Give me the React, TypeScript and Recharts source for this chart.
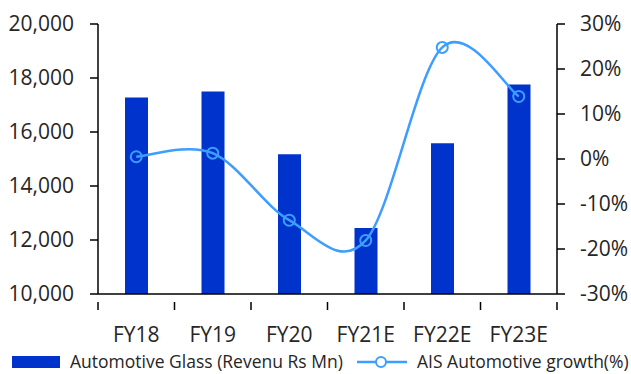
import React from "react";
import { ComposedChart, Bar, Line, XAxis, YAxis, Legend } from "recharts";

const categories = ["FY18", "FY19", "FY20", "FY21E", "FY22E", "FY23E"];
const glassRevenue = [17280, 17500, 15180, 12440, 15580, 17760];
const aisGrowth = [0.5, 1.3, -13.6, -18.1, 24.8, 13.9];
const revenueTicks = [10000, 12000, 14000, 16000, 18000, 20000];
const growthTicks = [-30, -20, -10, 0, 10, 20, 30];

const data = categories.map((name, i) => ({
  name,
  glass: glassRevenue[i],
  growth: aisGrowth[i],
}));

const BAR_COLOR = "#0033CC";
const LINE_COLOR = "#3D9EFF";
const TEXT_COLOR = "#262626";
const FONT = "'Open Sans', sans-serif";
const TICK_FONT_SIZE = 21;

const CHART_W = 631;
const CHART_H = 374;
const LEFT_AXIS_W = 98;
const RIGHT_AXIS_W = 74;
const BAND = (CHART_W - LEFT_AXIS_W - RIGHT_AXIS_W) / categories.length;

// Smoothed line in the spreadsheet style: cubic Bézier segments whose
// control points follow the neighbouring points (tension 1/6).
const smoothCurve = (context: any) => {
  let pts: [number, number][] = [];
  return {
    areaStart() {},
    areaEnd() {},
    lineStart() {
      pts = [];
    },
    point(x: number, y: number) {
      pts.push([+x, +y]);
    },
    lineEnd() {
      if (!pts.length) return;
      context.moveTo(pts[0][0], pts[0][1]);
      for (let i = 0; i < pts.length - 1; i++) {
        const p0 = pts[i - 1] || pts[i];
        const p1 = pts[i];
        const p2 = pts[i + 1];
        const p3 = pts[i + 2] || pts[i + 1];
        context.bezierCurveTo(
          p1[0] + (p2[0] - p0[0]) / 6,
          p1[1] + (p2[1] - p0[1]) / 6,
          p2[0] - (p3[0] - p1[0]) / 6,
          p2[1] - (p3[1] - p1[1]) / 6,
          p2[0],
          p2[1]
        );
      }
    },
  };
};

// Category label plus tick marks placed on the band boundaries.
const CategoryTick = (props: any) => {
  const { x, y, payload, index } = props;
  const left = x - BAND / 2;
  const right = x + BAND / 2;
  return (
    <g>
      <line x1={left} y1={y} x2={left} y2={y + 8} stroke="#000" strokeWidth={1.5} />
      {index === categories.length - 1 && (
        <line x1={right} y1={y} x2={right} y2={y + 8} stroke="#000" strokeWidth={1.5} />
      )}
      <text
        x={x}
        y={y + 40}
        textAnchor="middle"
        fill={TEXT_COLOR}
        fontSize={TICK_FONT_SIZE}
        fontFamily={FONT}
      >
        {payload.value}
      </text>
    </g>
  );
};

const legendText: React.CSSProperties = {
  position: "absolute",
  top: 5,
  fontSize: 17.5,
  lineHeight: "24px",
  color: TEXT_COLOR,
  whiteSpace: "nowrap",
};

const LegendContent = () => (
  <div style={{ position: "relative", width: CHART_W, height: 30, fontFamily: FONT }}>
    <div
      style={{
        position: "absolute",
        left: 12,
        top: 12,
        width: 48,
        height: 12,
        background: BAR_COLOR,
      }}
    />
    <span style={{ ...legendText, left: 70 }}>Automotive Glass (Revenu Rs Mn)</span>
    <svg style={{ position: "absolute", left: 355, top: 8 }} width={56} height={20}>
      <line x1={2} y1={10} x2={52} y2={10} stroke={LINE_COLOR} strokeWidth={2.5} />
      <circle cx={26} cy={10} r={5} fill="#fff" stroke={LINE_COLOR} strokeWidth={2} />
    </svg>
    <span style={{ ...legendText, left: 417 }}>AIS Automotive growth(%)</span>
  </div>
);

export default function App() {
  return (
    <div style={{ position: "absolute", left: 0, top: 0, background: "#fff" }}>
      <ComposedChart
        width={CHART_W}
        height={CHART_H}
        data={data}
        margin={{ top: 24, right: 0, bottom: 0, left: 0 }}
      >
        <XAxis
          dataKey="name"
          height={50}
          axisLine={{ stroke: "#000", strokeWidth: 1.5 }}
          tickLine={false}
          tick={<CategoryTick />}
          interval={0}
        />
        <YAxis
          yAxisId="left"
          width={LEFT_AXIS_W}
          domain={[10000, 20000]}
          ticks={revenueTicks}
          allowDataOverflow
          axisLine={{ stroke: "#000", strokeWidth: 1.5 }}
          tickLine={{ stroke: "#000", strokeWidth: 1.5 }}
          tickSize={8}
          tickMargin={16}
          tick={{ fill: TEXT_COLOR, fontSize: TICK_FONT_SIZE, fontFamily: FONT }}
          tickFormatter={(v: number) => v.toLocaleString("en-US")}
        />
        <YAxis
          yAxisId="right"
          orientation="right"
          width={RIGHT_AXIS_W}
          domain={[-30, 30]}
          ticks={growthTicks}
          axisLine={{ stroke: "#000", strokeWidth: 1.5 }}
          tickLine={{ stroke: "#000", strokeWidth: 1.5 }}
          tickSize={8}
          tickMargin={15}
          tick={{ fill: TEXT_COLOR, fontSize: TICK_FONT_SIZE, fontFamily: FONT }}
          tickFormatter={(v: number) => `${v}%`}
        />
        <Legend verticalAlign="bottom" height={30} content={<LegendContent />} />
        <Bar
          yAxisId="left"
          dataKey="glass"
          name="Automotive Glass (Revenu Rs Mn)"
          fill={BAR_COLOR}
          barSize={23}
          isAnimationActive={false}
        />
        <Line
          yAxisId="right"
          dataKey="growth"
          name="AIS Automotive growth(%)"
          type={smoothCurve as any}
          stroke={LINE_COLOR}
          strokeWidth={2.5}
          dot={{ r: 5.5, fill: "none", stroke: LINE_COLOR, strokeWidth: 2 }}
          activeDot={false}
          isAnimationActive={false}
        />
      </ComposedChart>
    </div>
  );
}
